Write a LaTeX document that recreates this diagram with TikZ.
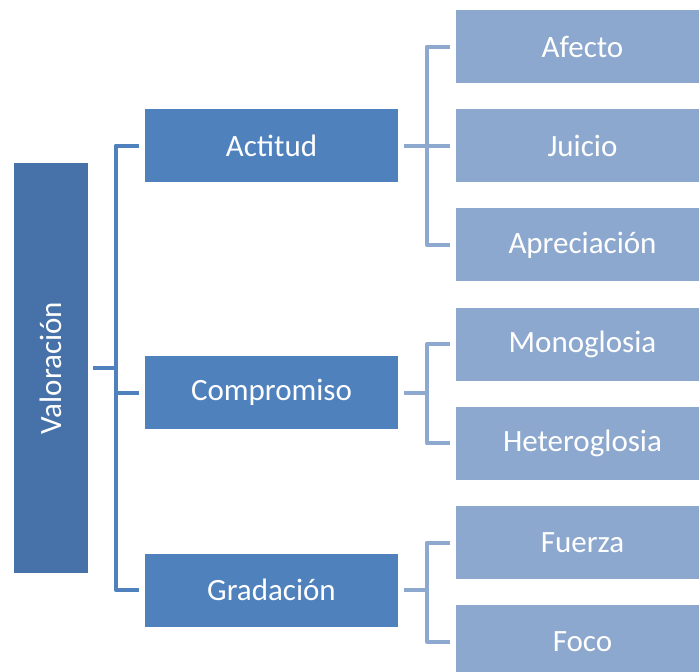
\documentclass[tikz,border=0pt]{standalone}
\usepackage{fontspec}
\setmainfont{Carlito}
\usetikzlibrary{positioning}
\definecolor{rootblue}{HTML}{4672A9}
\definecolor{midblue}{HTML}{4F81BD}
\definecolor{leafblue}{HTML}{8DA8CE}
\definecolor{leafline}{HTML}{8EA9CF}
\tikzstyle{root} = [rectangle, minimum width=410pt, minimum height=74pt, inner sep=0pt, fill=rootblue, text=white, font=\fontsize{31}{36}\selectfont]
\tikzstyle{mid} = [rectangle, minimum width=253pt, minimum height=73pt, inner sep=0pt, fill=midblue, text=white, font=\fontsize{31}{36}\selectfont]
\tikzstyle{leaf} = [rectangle, minimum width=253pt, minimum height=73pt, inner sep=0pt, fill=leafblue, text=white, font=\fontsize{31}{36}\selectfont]
\tikzstyle{lconn} = [draw=midblue, line width=4pt, line join=round]
\tikzstyle{rconn} = [draw=leafline, line width=4pt, line join=round]

\begin{document}
\begin{tikzpicture}[x=1pt, y=-1pt, node distance=25.8pt]
		\useasboundingbox (0,0) rectangle (699,672);
		\node (val) [root, rotate=90] at (51,368) {Valoración};

		\node (act) [mid] at (271.5,145.5) {Actitud};
		\node (com) [mid] at (271.5,392.5) {Compromiso};
		\node (gra) [mid] at (271.5,590) {Gradación};

		\node (afe) [leaf] at (582.5,46.5) {Afecto};
		\node (jui) [leaf, below=of afe] {Juicio};
		\node (apr) [leaf, below=of jui] {Apreciación};
		\node (mon) [leaf, below=of apr] {Monoglosia};
		\node (het) [leaf, below=of mon] {Heteroglosia};
		\node (fue) [leaf, below=of het] {Fuerza};
		\node (foc) [leaf, below=of fue] {Foco};

		% raiz
		\draw [lconn] ([xshift=5pt]val.south) -- ([xshift=28pt]val.south);
		\draw [lconn] ([xshift=-6pt]act.west) -| ([xshift=-29pt]act.west) |- ([xshift=-6pt]gra.west);
		\draw [lconn] ([xshift=-29pt]com.west) -- ([xshift=-6pt]com.west);

		% actitud
		\draw [rconn] ([xshift=6pt]act.east) -- ([xshift=29pt]act.east);
		\draw [rconn] ([xshift=-6pt]afe.west) -| ([xshift=-29pt]afe.west) |- ([xshift=-6pt]apr.west);
		\draw [rconn] ([xshift=-29pt]jui.west) -- ([xshift=-6pt]jui.west);

		% compromiso
		\draw [rconn] ([xshift=6pt]com.east) -- ([xshift=29pt]com.east);
		\draw [rconn] ([xshift=-6pt]mon.west) -| ([xshift=-29pt]mon.west) |- ([xshift=-6pt]het.west);

		% gradacion
		\draw [rconn] ([xshift=6pt]gra.east) -- ([xshift=29pt]gra.east);
		\draw [rconn] ([xshift=-6pt]fue.west) -| ([xshift=-29pt]fue.west) |- ([xshift=-6pt]foc.west);
	\end{tikzpicture}
\end{document}
